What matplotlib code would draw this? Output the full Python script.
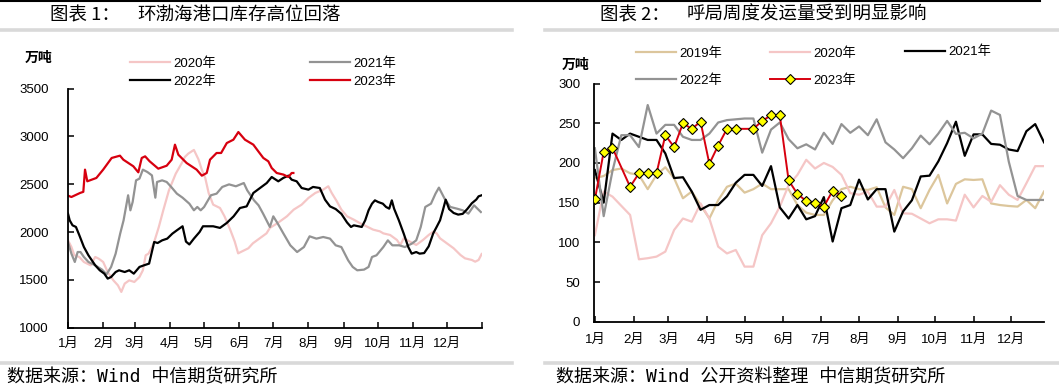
import numpy as np
import matplotlib
matplotlib.use('Agg')
import matplotlib.pyplot as plt
from matplotlib.lines import Line2D

plt.rcParams['font.family'] = ['Liberation Sans', 'Noto Sans CJK SC']
plt.rcParams['axes.unicode_minus'] = False

# ---------------- data ----------------
months = ['1月', '2月', '3月', '4月', '5月', '6月', '7月', '8月', '9月', '10月', '11月', '12月']
month_start_day = [0, 31, 59, 90, 120, 151, 181, 212, 243, 273, 304, 334]

# Chart 1: Bohai-rim port inventory (10k t), x = day of year
inv2020_day = [0, 3, 5.6, 10, 14, 20, 24, 27, 31, 35, 40, 44, 47, 50, 54, 58.5, 63, 66, 68.5, 71, 75.5, 80, 84, 89, 95,
               100, 103, 106, 111, 115, 118, 121, 124, 128, 134, 138, 143, 147, 150, 153, 159, 163, 169, 175, 178,
               185, 193, 199, 206, 212, 218, 225, 229.5, 232.5, 237, 241, 246, 252, 257, 263, 269, 275, 278, 284,
               290, 293, 296, 301.5, 307, 313, 318, 322, 325, 328, 334, 340, 346, 350, 356, 359, 362, 364.7]
inv2020_val = [1913, 1844, 1757, 1739, 1687, 1652, 1739, 1722, 1687, 1582, 1495, 1443, 1374, 1461, 1495, 1478, 1530,
               1600, 1757, 1774, 1878, 2050, 2227, 2436, 2610, 2714, 2784, 2819, 2858, 2760, 2650, 2565, 2408, 2286,
               2251, 2164, 2025, 1900, 1777, 1795, 1830, 1882, 1934, 1986, 2043, 2095, 2164, 2234, 2286, 2356, 2408,
               2443, 2478, 2408, 2321, 2234, 2164, 2129, 2095, 2060, 2025, 2007, 1986, 1969, 1917, 1865, 1934, 1899,
               1865, 1917, 1969, 2004, 1986, 1934, 1882, 1830, 1760, 1725, 1708, 1690, 1708, 1770]

inv2021_day = [0, 3, 6, 8.5, 11, 14, 18, 24, 30, 34, 38, 42, 46, 49, 53, 55, 57, 60, 63, 66, 70, 74, 77, 78.5, 83, 87,
               91, 96, 101, 107, 111, 114, 117, 120, 126, 131, 136, 142, 148, 155, 158, 164, 168, 172, 178, 181, 185,
               190, 196, 202, 208, 213, 219, 225, 231, 236, 241, 247, 251, 255, 261, 265, 268, 272, 278, 282, 286,
               292, 297, 303, 307, 311, 315, 320, 324, 327, 332, 337, 343, 348, 353, 358, 364]
inv2021_val = [1896, 1774, 1687, 1791, 1791, 1739, 1687, 1652, 1607, 1558, 1635, 1774, 1983, 2122, 2384, 2227, 2314,
               2540, 2558, 2652, 2627, 2592, 2359, 2523, 2540, 2523, 2471, 2401, 2359, 2296, 2227, 2262, 2227, 2262,
               2384, 2401, 2471, 2498, 2478, 2512, 2436, 2331, 2279, 2192, 2053, 2164, 2087, 1983, 1861, 1791, 1843,
               1955, 1931, 1948, 1931, 1861, 1843, 1704, 1635, 1600, 1607, 1635, 1739, 1757, 1843, 1913, 1861, 1861,
               1843, 1878, 1913, 2053, 2262, 2296, 2401, 2464, 2349, 2262, 2244, 2227, 2192, 2279, 2209]

inv2022_day = [0, 1.5, 4, 7, 10, 14, 18, 24, 28, 32, 35, 38, 42, 45, 50, 54, 58, 63, 67, 71.5, 76, 79, 83, 87.5, 92,
               96, 101, 104, 107, 111, 116, 119, 128, 134, 140, 146, 151.6, 157.5, 163.4, 169.3, 175.2, 179.6, 185.4,
               189.8, 194.3, 197.2, 201.6, 206, 212, 216, 222, 226.6, 231, 236, 241, 246, 249.5, 252, 259, 262, 265,
               268, 270.6, 273.4, 277.6, 280.4, 283.2, 285.5, 287.5, 291.7, 296, 300, 303, 307, 310, 314, 318, 322,
               325, 328, 330.5, 333, 336, 340, 344, 348, 352, 356, 360, 362, 364.7]
inv2022_val = [2192, 2122, 2070, 2053, 1966, 1844, 1757, 1652, 1600, 1565, 1513, 1530, 1582, 1600, 1582, 1600, 1565,
               1635, 1652, 1670, 1896, 1885, 1913, 1931, 1983, 2018, 2060, 1900, 1870, 1931, 2000, 2060, 2060, 2043,
               2095, 2164, 2251, 2268, 2408, 2460, 2512, 2575, 2530, 2565, 2589, 2547, 2530, 2460, 2443, 2471, 2460,
               2338, 2268, 2240, 2190, 2100, 2053, 2070, 2053, 2122, 2227, 2296, 2331, 2314, 2296, 2262, 2244, 2331,
               2244, 2122, 1983, 1843, 1774, 1791, 1774, 1780, 1850, 1986, 2053, 2122, 2227, 2338, 2240, 2199, 2182,
               2190, 2240, 2300, 2340, 2373, 2384]

inv2023_day = [0, 3, 10.6, 13.5, 15, 17, 25, 31, 38.5, 45.8, 48.8, 57.6, 62, 65, 68, 72, 79.6, 87, 91.4, 94.3, 97.3,
               104.6, 113.4, 118, 122.3, 125.2, 131, 135, 140, 145.8, 150.2, 156, 163.4, 167.8, 172.2, 176.6, 179.6,
               184, 190, 194.3, 197.2, 198.7]
inv2023_val = [2380, 2366, 2408, 2420, 2652, 2530, 2565, 2652, 2774, 2798, 2756, 2687, 2624, 2774, 2791, 2739, 2662,
               2693, 2756, 2913, 2808, 2721, 2652, 2589, 2617, 2756, 2826, 2826, 2930, 2965, 3045, 2965, 2913, 2843,
               2774, 2739, 2669, 2617, 2600, 2575, 2617, 2617]

# Chart 2: weekly shipments (10k t), x = week index
ship2019 = [180.7, 183.6, 191, 193, 187, 185, 167, 185, 194.6, 180.7, 155.5, 164, 147, 130, 153, 170, 174, 162.6,
            167, 174, 167, 167, 167, 147, 137.4, 134.5, 134.5, 153, 167, 170, 167, 166, 169.4, 144, 134.5, 170, 167,
            143, 166, 185, 149, 173.6, 179.4, 178.6, 179.4, 149, 147, 145.8, 145, 153.4, 143, 164]
ship2020 = [109, 164, 157.6, 146, 134.5, 78.6, 80, 82, 88.3, 115.6, 130, 126, 149, 130, 94.6, 86, 90.4, 69.4, 69.4,
            109, 124, 145, 172, 185, 204, 193, 200, 195, 185, 162, 160, 164, 145, 145, 166, 136.6, 136, 130, 124, 129,
            129, 127.4, 160, 144, 158.4, 151, 172, 160, 153.4, 174.4, 196, 196]
ship2021 = [191, 150, 237, 229, 237, 233, 229, 229, 212, 181, 182, 164, 141, 147, 147, 158, 175, 185, 185, 171, 196,
            144, 130, 147, 129, 133, 157, 101, 143, 147, 179, 154, 167, 167, 113.5, 139, 153, 183, 184, 202, 225, 252,
            209, 236, 236, 224, 223, 217, 215, 240, 249, 226]
ship2022 = [218.5, 133, 190, 235, 235, 220, 273, 237, 248, 248, 233, 229, 229, 237, 251, 254, 255, 256, 256, 213, 242,
            251, 230, 218.5, 223.5, 217, 238, 224, 249, 238, 246, 235, 255, 226, 217, 206, 218.5, 234.5, 223.5, 237,
            253, 236.6, 238, 231, 237, 266, 260.5, 201.7, 158.4, 153.4, 153.4, 153.4]
ship2023 = [154, 214, 219, None, 170, 187, 187, 187, 235, 220, 250, 243, 252, 199, 222, 243, 243, None, 243, 253, 260,
            260, 178, 161, 152, 150, 145, 165, 159]

# ---------------- figure ----------------
W, H = 1059, 392
fig = plt.figure(figsize=(W / 100, H / 100), dpi=100)


def fx(px):
    return px / W


def fy(py):
    return 1 - py / H


CJK = ['Noto Sans CJK SC']
C_PINK = '#f5c6c6'
C_GRAY = '#939393'
C_RED = '#d7000f'
C_TAN = '#dcc69c'
FS = 9.5

# frame decorations
fig.add_artist(Line2D([0, fx(1040)], [fy(0.8), fy(0.8)], color='black', lw=1.5, transform=fig.transFigure))
for x0, x1 in [(0, 512), (545, 1059)]:
    fig.add_artist(Line2D([fx(x0), fx(x1)], [fy(30), fy(30)], color='#d9d9d9', lw=2.6, transform=fig.transFigure))
    fig.add_artist(Line2D([fx(x0), fx(x1)], [fy(362.5), fy(362.5)], color='#d9d9d9', lw=2.6,
                          transform=fig.transFigure))

# titles
fig.text(fx(50), fy(15), '图表 1：', fontsize=13.3, family=CJK, va='center', ha='left')
fig.text(fx(137), fy(15), '环渤海港口库存高位回落', fontsize=13.3, family=CJK, va='center', ha='left')
fig.text(fx(600), fy(15), '图表 2：', fontsize=13.3, family=CJK, va='center', ha='left')
fig.text(fx(687), fy(15), '呼局周度发运量受到明显影响', fontsize=13.3, family=CJK, va='center', ha='left')

# sources
src_fam = ['DejaVu Sans Mono', 'Noto Sans CJK SC']
fig.text(fx(7), fy(377), '数据来源：Wind 中信期货研究所', fontsize=13, family=src_fam, va='center', ha='left')
fig.text(fx(556), fy(377), '数据来源：Wind 公开资料整理 中信期货研究所', fontsize=13, family=src_fam,
         va='center', ha='left')

# unit labels
fig.text(fx(25), fy(58), '万吨', fontsize=10, family=CJK, weight='bold', va='center', ha='left')
fig.text(fx(562), fy(65), '万吨', fontsize=10, family=CJK, weight='bold', va='center', ha='left')


def style_axes(ax, ypad, xpad):
    for s in ['top', 'right']:
        ax.spines[s].set_visible(False)
    for s in ['left', 'bottom']:
        ax.spines[s].set_linewidth(1.3)
        ax.spines[s].set_color('black')
    ax.tick_params(axis='both', direction='in', length=4, width=1.1, labelsize=FS, colors='black')
    ax.tick_params(axis='y', pad=ypad)
    ax.tick_params(axis='x', pad=xpad)
    ax.set_facecolor('none')


# ---- left chart ----
ax1 = fig.add_axes([fx(68), fy(327.7), fx(482) - fx(68), fy(88.5) - fy(327.7)])
l20, = ax1.plot(inv2020_day, inv2020_val, color=C_PINK, lw=1.6, label='2020年')
l21, = ax1.plot(inv2021_day, inv2021_val, color=C_GRAY, lw=1.6, label='2021年')
l22, = ax1.plot(inv2022_day, inv2022_val, color='black', lw=1.6, label='2022年')
l23, = ax1.plot(inv2023_day, inv2023_val, color=C_RED, lw=1.6, label='2023年')
ax1.set_xlim(0, 365)
ax1.set_ylim(1000, 3500)
ax1.set_yticks(np.arange(1000, 3501, 500))
ax1.set_xticks(month_start_day + [365])
ax1.set_xticklabels(months + [''])
style_axes(ax1, ypad=14, xpad=7.5)

leg_kw = dict(frameon=False, fontsize=FS, handlelength=3.0, handletextpad=0.25, borderpad=0,
              borderaxespad=0, loc='center left')
fig.legend(handles=[l20, l22], labelspacing=0.45, bbox_to_anchor=(fx(130), fy(72.5)), **leg_kw)
fig.legend(handles=[l21, l23], labelspacing=0.45, bbox_to_anchor=(fx(310), fy(72.5)), **leg_kw)

# ---- right chart ----
ax2 = fig.add_axes([fx(594), fy(321.7), fx(1044) - fx(594), fy(83.6) - fy(321.7)])
wk = np.arange(len(ship2019))
s19, = ax2.plot(wk, ship2019, color=C_TAN, lw=1.6, label='2019年')
s20, = ax2.plot(wk, ship2020, color=C_PINK, lw=1.6, label='2020年')
s21, = ax2.plot(wk, ship2021, color='black', lw=1.6, label='2021年')
s22, = ax2.plot(wk, ship2022, color=C_GRAY, lw=1.6, label='2022年')
x23 = [i for i, v in enumerate(ship2023) if v is not None]
y23 = [v for v in ship2023 if v is not None]
s23, = ax2.plot(x23, y23, color=C_RED, lw=1.4, marker='D', ms=5.6, mfc='#ffff00', mec='black', mew=0.8,
                label='2023年', zorder=5)
ax2.set_xlim(-0.1, 51)
ax2.set_ylim(0, 300)
ax2.set_yticks(np.arange(0, 301, 50))
ax2.set_xticks(np.array(month_start_day) / 7.06)
ax2.set_xticklabels(months)
style_axes(ax2, ypad=10, xpad=8.5)

fig.legend(handles=[s19, s22], labelspacing=1.12, bbox_to_anchor=(fx(636), fy(67)), **leg_kw)
fig.legend(handles=[s20, s23], labelspacing=1.12, bbox_to_anchor=(fx(770), fy(67)), **leg_kw)
fig.legend(handles=[s21], labelspacing=1.12, bbox_to_anchor=(fx(905), fy(52)), **leg_kw)

fig.savefig('out.png', dpi=100)
